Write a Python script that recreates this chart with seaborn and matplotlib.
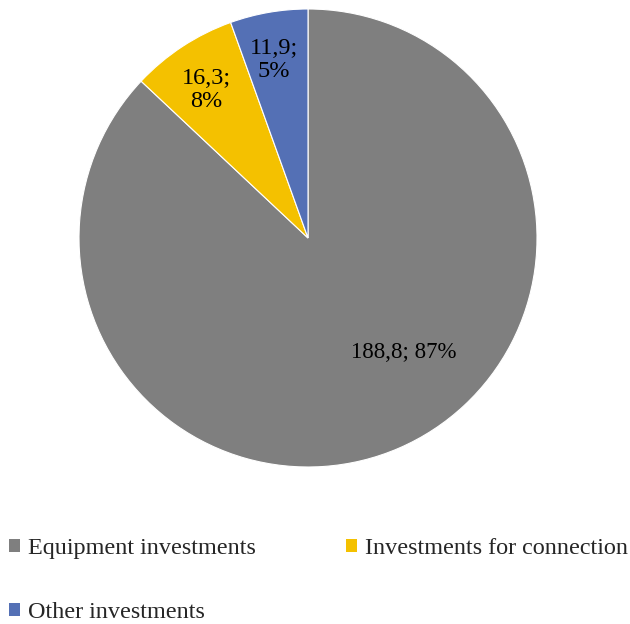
import matplotlib
matplotlib.use("Agg")
import matplotlib.pyplot as plt
from matplotlib.patches import Patch
import numpy as np
import seaborn as sns

# Investment structure
categories = ["Equipment investments", "Investments for connection", "Other investments"]
values = [188.8, 16.3, 11.9]
shares = [87, 8, 5]
colors = ["#7F7F7F", "#F4C100", "#5470B5"]

sns.set_theme(style="white")
plt.rcParams["font.family"] = ["Liberation Serif", "DejaVu Serif"]

fig = plt.figure(figsize=(6.30, 6.24), dpi=100)
ax = fig.add_axes([0.1254, 0.2516, 0.727, 0.734])

wedges, _ = ax.pie(values, colors=sns.color_palette(colors), startangle=90,
                   counterclock=False, radius=1.0,
                   wedgeprops=dict(linewidth=0.8, edgecolor="white"))
ax.set_xlim(-1, 1)
ax.set_ylim(-1, 1)
ax.set_aspect("equal")
ax.axis("off")

def fmt(v):
    return f"{v:.1f}".replace(".", ",")

# label placement: (angle in degrees, radius fraction, multiline, font size)
label_pos = [(-49.9, 0.651, False, 16.5), (124.5, 0.785, True, 17.5),
             (100.8, 0.79, True, 17.5)]
for v, s, (ang, r, ml, fs) in zip(values, shares, label_pos):
    sep = ";\n" if ml else "; "
    txt = f"{fmt(v)}{sep}{s}%"
    a = np.deg2rad(ang)
    ax.text(r * np.cos(a), r * np.sin(a), txt, ha="center", va="center",
            fontsize=fs, color="black", linespacing=1.15)

# legend filled row by row: two entries on the first row, one on the second
handles = [Patch(facecolor=c, edgecolor="none") for c in colors]
order = [0, 2, 1]
fig.legend([handles[i] for i in order], [categories[i] for i in order],
           loc="upper left", bbox_to_anchor=(0.003, 0.150),
           ncol=2, frameon=False, fontsize=17.4, handlelength=0.45, handleheight=0.45,
           handletextpad=0.35, columnspacing=3.7, labelspacing=1.8,
           borderaxespad=0.0, borderpad=0.3)

fig.savefig("out.png", dpi=100, facecolor="white")
